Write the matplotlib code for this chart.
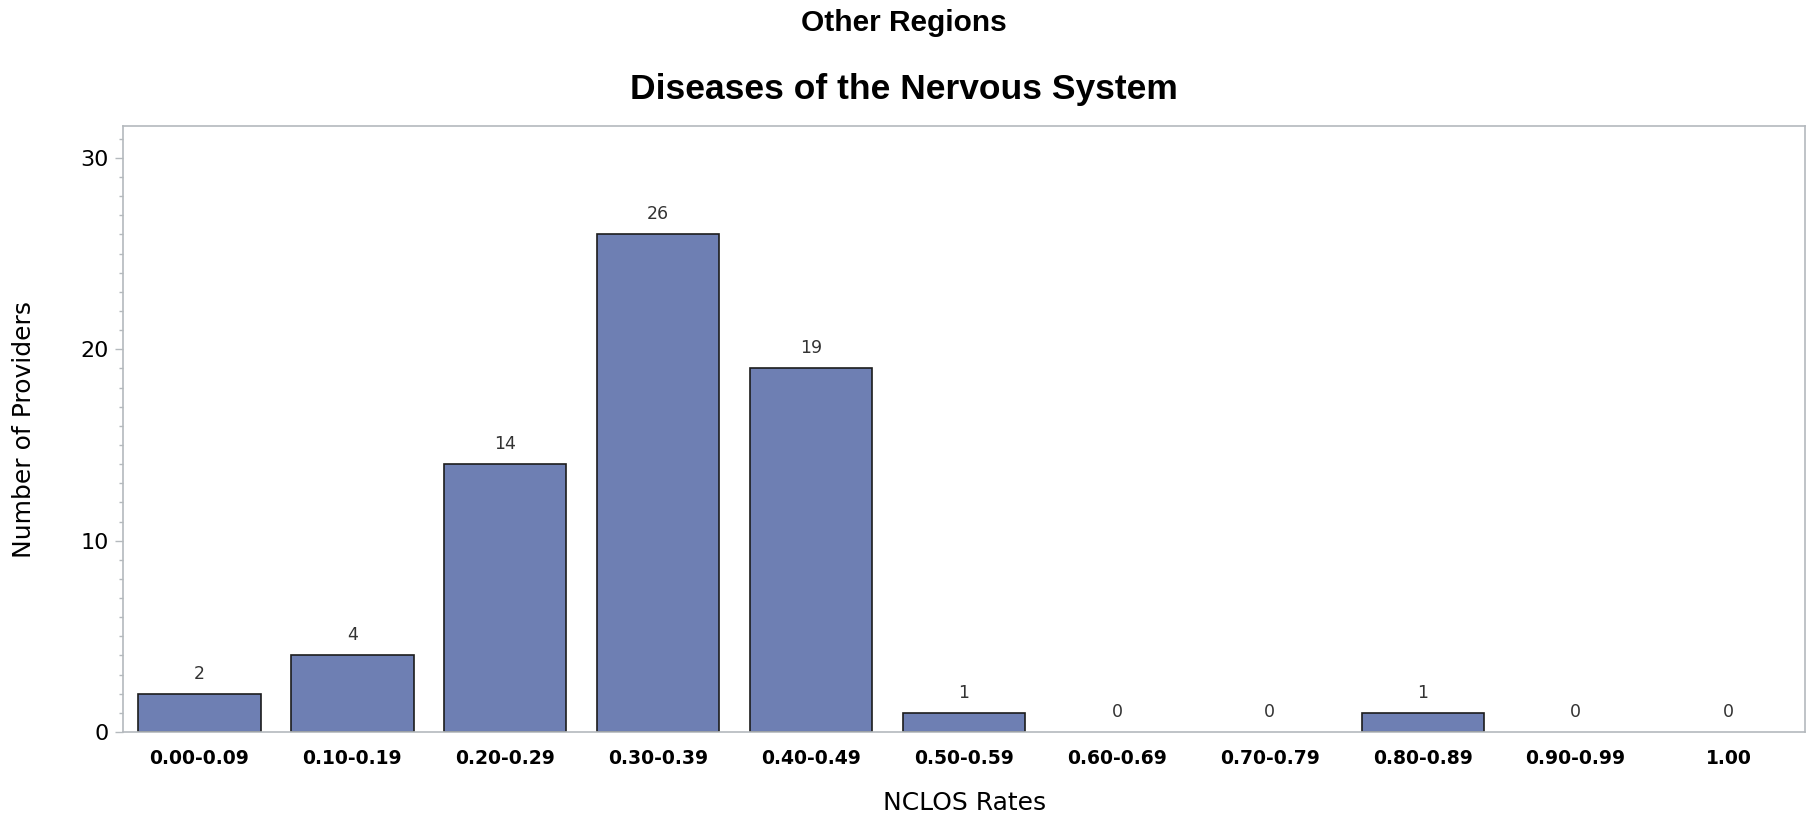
import matplotlib
matplotlib.use('Agg')
import matplotlib.pyplot as plt
import numpy as np
from matplotlib.ticker import MultipleLocator

# NCLOS rate bins and provider counts
categories = ['0.00-0.09', '0.10-0.19', '0.20-0.29', '0.30-0.39', '0.40-0.49',
              '0.50-0.59', '0.60-0.69', '0.70-0.79', '0.80-0.89', '0.90-0.99', '1.00']
counts = [2, 4, 14, 26, 19, 1, 0, 0, 1, 0, 0]
y_ticks = [0, 10, 20, 30]

W, H = 1808, 816
fig = plt.figure(figsize=(W / 100, H / 100), dpi=100)
ax = fig.add_axes([123 / W, 1 - 732 / H, (1805 - 123) / W, (732 - 126) / H])

x = np.arange(len(categories))
# zero-count bins get no outline, as in the original
edge_w = [1.2 if c > 0 else 0 for c in counts]
ax.bar(x, counts, width=0.8, color='#6e7fb3', edgecolor='#1c1c1c', linewidth=edge_w, zorder=2)

for xi, c in zip(x, counts):
    ax.annotate(str(c), (xi, c), xytext=(0, 8), textcoords='offset points',
                ha='center', va='bottom', fontsize=12.5, color='#333333',
                family='DejaVu Sans')

ax.set_xlim(-0.5, len(categories) - 0.5)
ax.set_ylim(0, 31.67)
ax.set_xticks(x)
ax.set_xticklabels(categories, fontsize=13.5, fontweight='bold', family='DejaVu Sans')
ax.tick_params(axis='x', length=0, pad=12)
ax.set_yticks(y_ticks)
ax.yaxis.set_minor_locator(MultipleLocator(1))
ax.tick_params(axis='y', which='major', length=6, width=1, color='#b4b9bd',
               labelsize=16, pad=4)
ax.tick_params(axis='y', which='minor', length=3, width=1, color='#b4b9bd')

for sp in ax.spines.values():
    sp.set_color('#b4b9bd')
    sp.set_linewidth(1.2)

fig.text(24 / W, 1 - 430 / H, 'Number of Providers', rotation=90,
         ha='center', va='center', fontsize=18, family='DejaVu Sans')
fig.text(965 / W, 1 - 803 / H, 'NCLOS Rates', ha='center', va='center',
         fontsize=18, family='DejaVu Sans')

fig.text(0.5, 1 - 23 / H, 'Other Regions', ha='center', va='center',
         fontsize=21.5, fontweight='bold', family='Liberation Sans')
fig.text(0.5, 1 - 90 / H, 'Diseases of the Nervous System', ha='center', va='center',
         fontsize=25.5, fontweight='bold', family='Liberation Sans')

fig.savefig('out.png', dpi=100)
plt.close(fig)
